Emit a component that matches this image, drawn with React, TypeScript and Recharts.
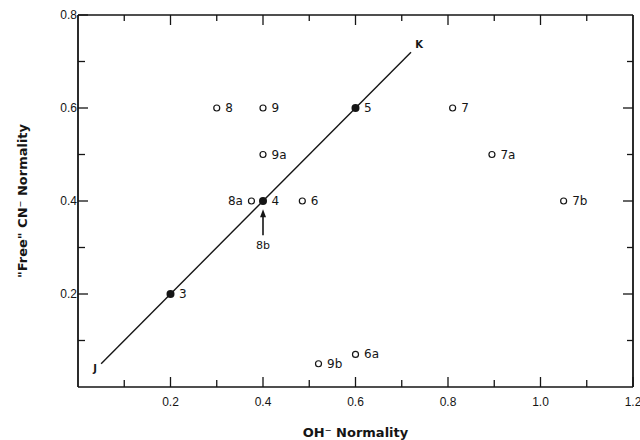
import {
  Label,
  LabelList,
  Scatter,
  ScatterChart,
  XAxis,
  YAxis,
} from "recharts";

// OH- normality ticks (minor every 0.1, labelled every 0.2)
const xTicks = [0, 0.1, 0.2, 0.3, 0.4, 0.5, 0.6, 0.7, 0.8, 0.9, 1.0, 1.1, 1.2];
const yTicks = [0, 0.1, 0.2, 0.3, 0.4, 0.5, 0.6, 0.7, 0.8];
const xLabelled = ["0.2", "0.4", "0.6", "0.8", "1.0", "1.2"];
const yLabelled = ["0.2", "0.4", "0.6", "0.8"];

// line J-K
const lineNames = ["J", "K"];
const lineX = [0.05, 0.72];
const lineY = [0.05, 0.72];

// filled points on the line
const onNames = ["3", "4", "5"];
const onX = [0.2, 0.4, 0.6];
const onY = [0.2, 0.4, 0.6];

// open points
const offNames = ["8", "9", "9a", "8a", "6", "7", "7a", "7b", "6a", "9b"];
const offX = [0.3, 0.4, 0.4, 0.375, 0.485, 0.81, 0.895, 1.05, 0.6, 0.52];
const offY = [0.6, 0.6, 0.5, 0.4, 0.4, 0.6, 0.5, 0.4, 0.07, 0.05];

// arrow annotation below point 4
const noteNames = ["8b"];
const noteX = [0.4];
const noteY = [0.305];

const leftLabels = ["8a", "J"];

const toRows = (names: string[], xs: number[], ys: number[]) =>
  names.map((name, i) => ({ name, x: xs[i], y: ys[i] }));

const lineData = toRows(lineNames, lineX, lineY);
const onData = toRows(onNames, onX, onY);
const offData = toRows(offNames, offX, offY);
const noteData = toRows(noteNames, noteX, noteY);

const xMax = xTicks[xTicks.length - 1];
const yMax = yTicks[yTicks.length - 1];

// layout
const W = 640;
const H = 440;
const margin = { top: 15, right: 7, left: 0, bottom: 0 };
const Y_AXIS_W = 78;
const X_AXIS_H = 53;
// plot box size, so the axis ticks can mirror themselves onto the top and right sides
const plotW = W - margin.left - margin.right - Y_AXIS_W;
const plotH = H - margin.top - margin.bottom - X_AXIS_H;

const INK = "#151515";
const tickFont = "'Liberation Sans', sans-serif";
const titleFont = "'DejaVu Sans', sans-serif";
const titleStyle = { fontFamily: titleFont, fontWeight: "bold", fontSize: 13, fill: INK, textAnchor: "middle" };

const fmt = (v: number) => v.toFixed(1);

const BottomTick = (p: any) => {
  const v = p.payload.value;
  const major = xLabelled.includes(fmt(v));
  const top = p.y - plotH;
  const inner = v > 0 && v < xMax;
  return (
    <g>
      {v > 0 && <line x1={p.x} x2={p.x} y1={p.y} y2={p.y - (major ? 10 : 7)} stroke={INK} strokeWidth={1.3} />}
      {inner && <line x1={p.x} x2={p.x} y1={top} y2={top + (major ? 10 : 6)} stroke={INK} strokeWidth={1.3} />}
      {v === xMax && <line x1={p.x} x2={p.x} y1={p.y} y2={top} stroke={INK} strokeWidth={1.8} />}
      {major && (
        <text x={p.x} y={p.y + 19} textAnchor="middle" fontSize={12} fontFamily={tickFont} fill={INK}>
          {fmt(v)}
        </text>
      )}
    </g>
  );
};

const LeftTick = (p: any) => {
  const v = p.payload.value;
  const major = yLabelled.includes(fmt(v));
  const right = p.x + plotW;
  const inner = v > 0 && v < yMax;
  return (
    <g>
      {v > 0 && <line x1={p.x} x2={p.x + (major ? 10 : 7)} y1={p.y} y2={p.y} stroke={INK} strokeWidth={1.3} />}
      {inner && <line x1={right} x2={right - (major ? 10 : 6)} y1={p.y} y2={p.y} stroke={INK} strokeWidth={1.3} />}
      {v === yMax && <line x1={p.x} x2={right} y1={p.y} y2={p.y} stroke={INK} strokeWidth={1.5} />}
      {major && (
        <text x={p.x - 1} y={p.y + 4} textAnchor="end" fontSize={12} fontFamily={tickFont} fill={INK}>
          {fmt(v)}
        </text>
      )}
    </g>
  );
};

const PointLabel = (p: any) => {
  const left = leftLabels.includes(p.value);
  return (
    <text
      x={left ? p.x - 4 : p.x + p.width + 4}
      y={p.y + p.height / 2 + 4}
      textAnchor={left ? "end" : "start"}
      fontSize={12}
      fontFamily={titleFont}
      fill={INK}
    >
      {p.value}
    </text>
  );
};

const EndLabel = (p: any) => {
  const first = p.value === lineNames[0];
  const cx = p.x + p.width / 2;
  const cy = p.y + p.height / 2;
  return (
    <text
      x={first ? cx - 6 : cx + 8}
      y={first ? cy + 8 : cy - 4}
      textAnchor="middle"
      fontSize={10}
      fontFamily={titleFont}
      fontWeight="bold"
      fill={INK}
    >
      {p.value}
    </text>
  );
};

const OpenDot = (p: any) => (
  <circle cx={p.cx} cy={p.cy} r={3} fill="#fff" stroke={INK} strokeWidth={1.2} />
);

const FilledDot = (p: any) => <circle cx={p.cx} cy={p.cy} r={4} fill={INK} />;

const NoDot = () => <g />;

const Arrow = (p: any) => (
  <g>
    <text x={p.cx} y={p.cy + 4} textAnchor="middle" fontSize={11} fontFamily={titleFont} fill={INK}>
      {p.payload.name}
    </text>
    <line x1={p.cx} x2={p.cx} y1={p.cy - 10} y2={p.cy - 32} stroke={INK} strokeWidth={1.6} />
    <path d={`M${p.cx - 3},${p.cy - 28} L${p.cx},${p.cy - 36} L${p.cx + 3},${p.cy - 28} Z`} fill={INK} />
  </g>
);

const fitLine = { stroke: INK, strokeWidth: 1.4 };

export default function App() {
  return (
    <div style={{ position: "absolute", left: 0, top: 0, background: "#fff" }}>
      <ScatterChart width={W} height={H} margin={margin}>
        <XAxis
          type="number"
          dataKey="x"
          domain={[0, xMax]}
          ticks={xTicks}
          interval={0}
          tickSize={0}
          tickMargin={0}
          tick={<BottomTick />}
          height={X_AXIS_H}
          stroke={INK}
          strokeWidth={1.6}
        >
          <Label value="OH⁻ Normality" position="insideBottom" offset={3} style={titleStyle} />
        </XAxis>
        <YAxis
          type="number"
          dataKey="y"
          domain={[0, yMax]}
          ticks={yTicks}
          interval={0}
          tickSize={0}
          tickMargin={0}
          tick={<LeftTick />}
          width={Y_AXIS_W}
          stroke={INK}
          strokeWidth={1.8}
        >
          <Label value={'"Free" CN⁻ Normality'} angle={-90} position="center" dx={-17} style={titleStyle} />
        </YAxis>
        <Scatter name="fit" data={lineData} line={fitLine} shape={<NoDot />} isAnimationActive={false}>
          <LabelList dataKey="name" content={<EndLabel />} />
        </Scatter>
        <Scatter name="on" data={onData} shape={<FilledDot />} isAnimationActive={false}>
          <LabelList dataKey="name" content={<PointLabel />} />
        </Scatter>
        <Scatter name="off" data={offData} shape={<OpenDot />} isAnimationActive={false}>
          <LabelList dataKey="name" content={<PointLabel />} />
        </Scatter>
        <Scatter name="note" data={noteData} shape={<Arrow />} isAnimationActive={false} />
      </ScatterChart>
    </div>
  );
}
